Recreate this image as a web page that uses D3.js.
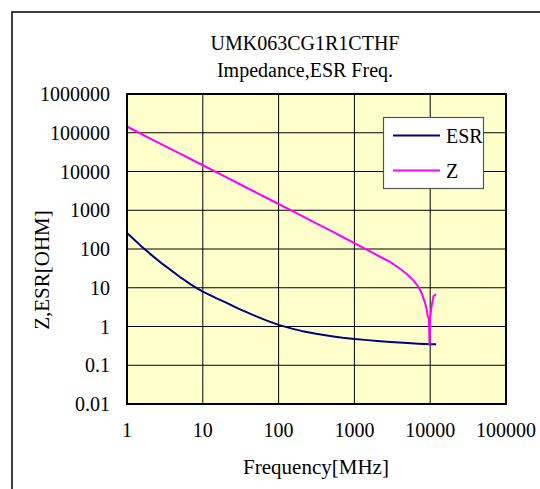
<!DOCTYPE html>
<html><head><meta charset="utf-8">
<script src="https://cdn.jsdelivr.net/npm/d3@7"></script>
<style>html,body{margin:0;padding:0;background:#fff}svg{display:block}</style>
</head><body>
<script>
const titleLines = ["UMK063CG1R1CTHF", "Impedance,ESR Freq."];
const xLabel = "Frequency[MHz]";
const yLabel = "Z,ESR[OHM]";
const xTicks = [1, 10, 100, 1000, 10000, 100000];
const yTicks = [0.01, 0.1, 1, 10, 100, 1000, 10000, 100000, 1000000];

const zFreq = [1, 2, 3, 5, 7, 10, 20, 30, 50, 70, 100, 200, 300, 500, 700, 1000, 1500, 2000, 3000, 4000, 5000, 6000, 6500, 7000, 7500, 8000, 8500, 8900, 9300, 9600, 9800, 10000, 10500, 11100, 12000];
const zVal  = [145000, 72000, 48000, 29000, 20700, 14500, 7250, 4830, 2900, 2070, 1450, 725, 482, 288, 204, 142, 94, 69, 46, 31, 22, 15.5, 12.8, 10.6, 8.2, 6.0, 4.2, 3.0, 1.8, 1.6, 0.34, 1.8, 3.6, 6.2, 6.8];

const esrFreq = [1, 1.2, 1.5, 2, 3, 5, 7, 10, 15, 20, 30, 50, 70, 100, 150, 200, 300, 500, 700, 1000, 1500, 2000, 3000, 5000, 7000, 10000, 12000];
const esrVal  = [260, 186, 124, 76, 40, 19, 12, 7.9, 5.4, 4.2, 2.85, 1.85, 1.42, 1.1, 0.88, 0.77, 0.66, 0.56, 0.51, 0.475, 0.445, 0.425, 0.40, 0.375, 0.36, 0.35, 0.35];

const series = [
  {name: "ESR", freq: esrFreq, val: esrVal, color: "#000080"},
  {name: "Z", freq: zFreq, val: zVal, color: "#ff00ff"}
];

const W = 540, H = 489;
const FONT = "Liberation Serif";
const svg = d3.select("body").append("svg").attr("width", W).attr("height", H)
  .attr("font-family", FONT);

svg.append("rect").attr("x", 12).attr("y", 12).attr("width", 600).attr("height", 600)
  .attr("fill", "#fff").attr("stroke", "#000").attr("stroke-width", 1.5);

const x = d3.scaleLog().domain([1, 100000]).range([127, 506]);
const y = d3.scaleLog().domain([0.01, 1000000]).range([404, 94]);

svg.append("rect").attr("x", x(1)).attr("y", y(1e6)).attr("width", x(1e5) - x(1)).attr("height", y(0.01) - y(1e6))
  .attr("fill", "#ffffcc");

const g = svg.append("g");
g.selectAll("line.hg").data(yTicks).join("line").attr("class", "hg")
  .attr("x1", x(1)).attr("x2", x(1e5)).attr("y1", d => y(d)).attr("y2", d => y(d))
  .attr("stroke", "#000").attr("stroke-width", 1);
g.selectAll("line.vg").data(xTicks).join("line").attr("class", "vg")
  .attr("x1", d => x(d)).attr("x2", d => x(d)).attr("y1", y(1e6)).attr("y2", y(0.01))
  .attr("stroke", "#000").attr("stroke-width", 1);

svg.selectAll("text.xt").data(xTicks).join("text").attr("class", "xt")
  .attr("font-family", FONT)
  .attr("x", d => x(d)).attr("y", 437).attr("text-anchor", "middle").attr("font-size", 20)
  .text(d => String(d));
svg.selectAll("text.yt").data(yTicks).join("text").attr("class", "yt")
  .attr("font-family", FONT)
  .attr("x", 110).attr("y", d => y(d) + 7).attr("text-anchor", "end").attr("font-size", 20)
  .text(d => String(d));

const line = d3.line().x(d => x(d[0])).y(d => y(d[1]));
series.forEach(s => {
  svg.append("path").datum(s.freq.map((f, i) => [f, s.val[i]]))
    .attr("d", line).attr("fill", "none").attr("stroke", s.color).attr("stroke-width", 2)
    .attr("stroke-linejoin", "round");
});

svg.append("rect").attr("x", x(1)).attr("y", y(1e6)).attr("width", x(1e5) - x(1)).attr("height", y(0.01) - y(1e6))
  .attr("fill", "none").attr("stroke", "#000").attr("stroke-width", 2);

const lg = svg.append("g");
lg.append("rect").attr("x", 383.5).attr("y", 117.5).attr("width", 100).attr("height", 71)
  .attr("fill", "#fff").attr("stroke", "#555").attr("stroke-width", 1.2);
series.forEach((s, i) => {
  const ly = [135.5, 170.5][i];
  lg.append("line").attr("x1", 393).attr("x2", 440).attr("y1", ly).attr("y2", ly)
    .attr("stroke", s.color).attr("stroke-width", 2);
  lg.append("text").attr("font-family", FONT).attr("x", 446).attr("y", ly + 7).attr("font-size", 20).text(s.name);
});

svg.selectAll("text.title").data(titleLines).join("text").attr("class", "title")
  .attr("font-family", FONT)
  .attr("x", 305).attr("y", (d, i) => [50, 77][i]).attr("text-anchor", "middle").attr("font-size", 20).text(d => d);
svg.append("text").attr("font-family", FONT).attr("x", 316).attr("y", 474).attr("text-anchor", "middle").attr("font-size", 21).text(xLabel);
svg.append("text").attr("font-family", FONT).attr("transform", "translate(49,270) rotate(-90)").attr("text-anchor", "middle").attr("font-size", 21).text(yLabel);
</script>
</body></html>
